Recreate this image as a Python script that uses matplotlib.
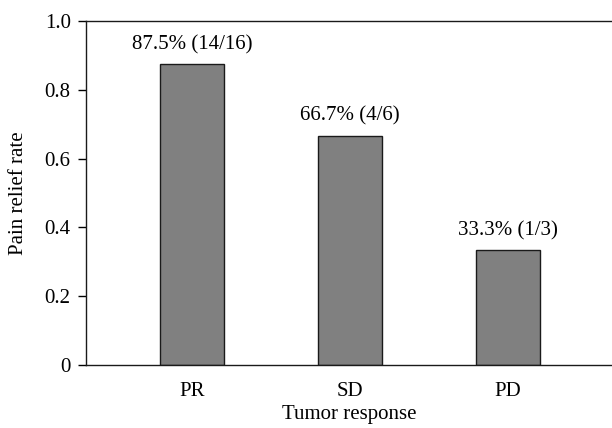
import numpy as np
import matplotlib
matplotlib.use("Agg")
import matplotlib.pyplot as plt

categories = ["PR", "SD", "PD"]
relief_rate = [0.875, 0.667, 0.333]
bar_labels = ["87.5% (14/16)", "66.7% (4/6)", "33.3% (1/3)"]

plt.rcParams["font.family"] = ["Liberation Serif", "DejaVu Serif"]
plt.rcParams["font.size"] = 15

fig = plt.figure(figsize=(6.12, 4.28), dpi=100)
ax = fig.add_axes([0.1405, 0.147, 0.8595, 0.804])

x = np.arange(len(categories))
ax.bar(x, relief_rate, width=0.405, color="#808080", edgecolor="#1a1a1a", linewidth=1.0)

for xi, val, lab in zip(x, relief_rate, bar_labels):
    ax.annotate(lab, (xi, val), xytext=(0, 7), textcoords="offset points",
                ha="center", va="bottom", fontsize=15)

ax.set_xlim(-0.67, 2.66)
ax.set_ylim(0, 1.0)
ax.set_yticks([0, 0.2, 0.4, 0.6, 0.8, 1.0])
ax.set_yticklabels(["0", "0.2", "0.4", "0.6", "0.8", "1.0"])
ax.set_xticks(x)
ax.set_xticklabels(categories)
ax.tick_params(axis="x", length=0, pad=12)
ax.tick_params(axis="y", direction="out", length=6, width=1, pad=5)

ax.spines["right"].set_visible(False)
for s in ["left", "top", "bottom"]:
    ax.spines[s].set_linewidth(1.0)
    ax.spines[s].set_color("#1a1a1a")

ax.set_xlabel("Tumor response", labelpad=3)
ax.set_ylabel("Pain relief rate", labelpad=12)

fig.savefig("out.png", dpi=100)
